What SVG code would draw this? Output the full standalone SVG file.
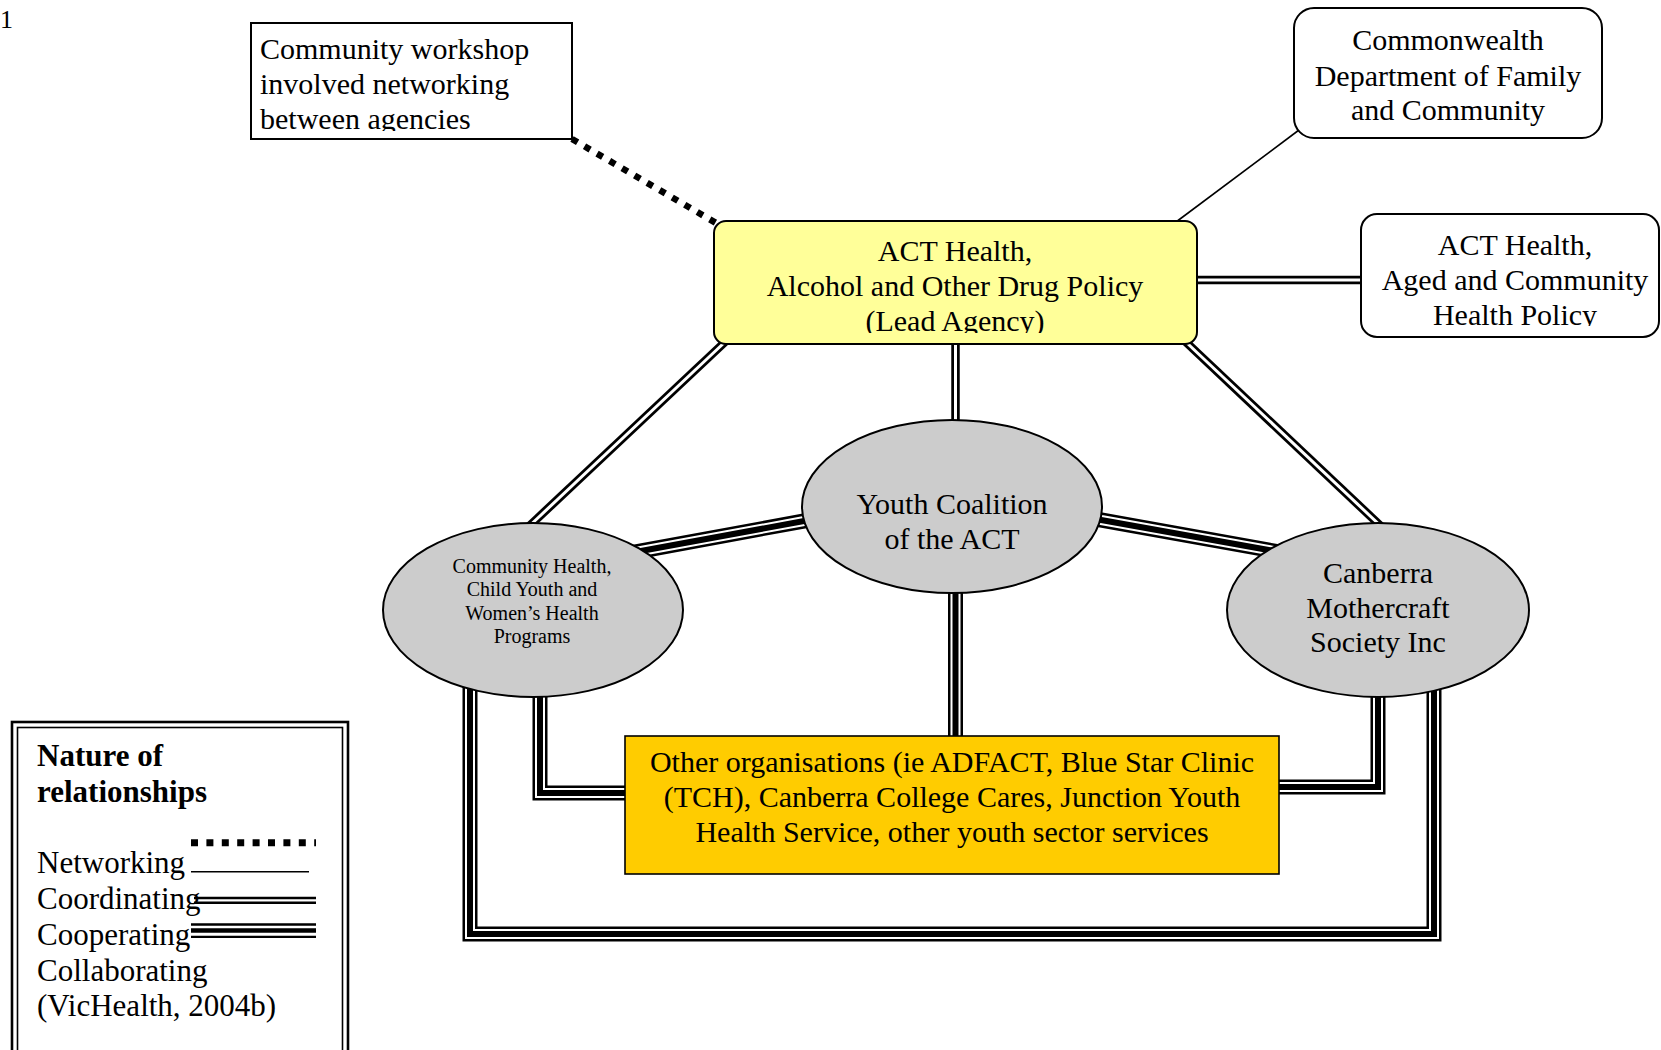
<svg xmlns="http://www.w3.org/2000/svg" width="1661" height="1050" viewBox="0 0 1661 1050">
<style>
text{font-family:"Liberation Serif","Times New Roman",serif;fill:#000;font-size:30px}
.c{text-anchor:middle}
.s{font-size:20px}
.lg{font-size:31px}
.b{font-weight:bold;font-size:31px}
.nd{stroke:#000;stroke-width:2}
.net{fill:none;stroke:#000;stroke-width:6.5;stroke-dasharray:6.5 8}
.one{fill:none;stroke:#000;stroke-width:1.6}
.d-o{fill:none;stroke:#000;stroke-width:8.5}
.d-i{fill:none;stroke:#fff;stroke-width:3}
.t-o{fill:none;stroke:#000;stroke-width:15}
.t-m{fill:none;stroke:#fff;stroke-width:10}
.t-i{fill:none;stroke:#000;stroke-width:6}
</style>
<defs>
<clipPath id="clipWs"><rect x="251" y="23" width="321" height="108"/></clipPath>
<clipPath id="clipAct"><rect x="714" y="221" width="483" height="112"/></clipPath>
<clipPath id="clipAged"><rect x="1361" y="214" width="300" height="112"/></clipPath>
<path id="d1" d="M1190,280 H1368"/>
<path id="d2" d="M742,326 L524,531"/>
<path id="d3" d="M955.5,330 V430"/>
<path id="d4" d="M1170,327 L1385,530"/>
<path id="tr1" d="M815,519 L630,553"/>
<path id="tr2" d="M1090,518 L1285,553"/>
<path id="tr3" d="M955.5,585 V745"/>
<path id="tr4" d="M540,690 V793 H635"/>
<path id="tr5" d="M1378,690 V787 H1270"/>
<path id="tr6" d="M470,680 V934 H1434 V680"/>
</defs>

<text x="0" y="28" style="font-size:26px">1</text>

<g id="connectors">
<path class="net" d="M572,139 L716,223"/>
<path class="one" d="M1176,222 L1299,130"/>
<use href="#d1" class="d-o"/><use href="#d1" class="d-i"/>
<use href="#d2" class="d-o"/><use href="#d2" class="d-i"/>
<use href="#d3" class="d-o"/><use href="#d3" class="d-i"/>
<use href="#d4" class="d-o"/><use href="#d4" class="d-i"/>
<use href="#tr1" class="t-o"/><use href="#tr1" class="t-m"/><use href="#tr1" class="t-i"/>
<use href="#tr2" class="t-o"/><use href="#tr2" class="t-m"/><use href="#tr2" class="t-i"/>
<use href="#tr3" class="t-o"/><use href="#tr3" class="t-m"/><use href="#tr3" class="t-i"/>
<use href="#tr4" class="t-o"/><use href="#tr4" class="t-m"/><use href="#tr4" class="t-i"/>
<use href="#tr5" class="t-o"/><use href="#tr5" class="t-m"/><use href="#tr5" class="t-i"/>
<use href="#tr6" class="t-o"/><use href="#tr6" class="t-m"/><use href="#tr6" class="t-i"/>
</g>

<g id="workshop">
<rect class="nd" x="251" y="23" width="321" height="116" fill="#fff"/>
<g clip-path="url(#clipWs)">
<text x="260" y="59">Community workshop</text>
<text x="260" y="94">involved networking</text>
<text x="260" y="129">between agencies</text>
</g>
</g>

<g id="commonwealth">
<rect class="nd" x="1294" y="8" width="308" height="130" rx="20" fill="#fff"/>
<text class="c" x="1448" y="50">Commonwealth</text>
<text class="c" x="1448" y="86">Department of Family</text>
<text class="c" x="1448" y="120">and Community</text>
</g>

<g id="aged">
<rect class="nd" x="1361" y="214" width="298" height="123" rx="16" fill="#fff"/>
<g clip-path="url(#clipAged)">
<text class="c" x="1515" y="255">ACT Health,</text>
<text class="c" x="1515" y="290">Aged and Community</text>
<text class="c" x="1515" y="325">Health Policy</text>
</g>
</g>

<g id="act">
<rect class="nd" x="714" y="221" width="483" height="123" rx="12" fill="#FFFF99"/>
<g clip-path="url(#clipAct)">
<text class="c" x="955" y="261">ACT Health,</text>
<text class="c" x="955" y="296">Alcohol and Other Drug Policy</text>
<text class="c" x="955" y="331">(Lead Agency)</text>
</g>
</g>

<g id="youth">
<ellipse class="nd" cx="952" cy="506.5" rx="150" ry="86.5" fill="#CCCCCC"/>
<text class="c" x="952" y="514">Youth Coalition</text>
<text class="c" x="952" y="549">of the ACT</text>
</g>

<g id="community-health">
<ellipse class="nd" cx="533" cy="610" rx="150" ry="87" fill="#CCCCCC"/>
<text class="c s" x="532" y="573">Community Health,</text>
<text class="c s" x="532" y="596">Child Youth and</text>
<text class="c s" x="532" y="620">Women’s Health</text>
<text class="c s" x="532" y="643">Programs</text>
</g>

<g id="mothercraft">
<ellipse class="nd" cx="1378" cy="610" rx="151" ry="87" fill="#CCCCCC"/>
<text class="c" x="1378" y="583">Canberra</text>
<text class="c" x="1378" y="618">Mothercraft</text>
<text class="c" x="1378" y="652">Society Inc</text>
</g>

<g id="other">
<rect x="625" y="736" width="654" height="138" fill="#FFCC00" stroke="#000" stroke-width="1.6"/>
<text class="c" x="952" y="772">Other organisations (ie ADFACT, Blue Star Clinic</text>
<text class="c" x="952" y="807">(TCH), Canberra College Cares, Junction Youth</text>
<text class="c" x="952" y="842">Health Service, other youth sector services</text>
</g>

<g id="legend">
<rect x="12" y="722" width="336" height="340" fill="#fff" stroke="#000" stroke-width="2.6"/>
<rect x="17.5" y="727.5" width="325" height="330" fill="none" stroke="#000" stroke-width="1.6"/>
<text class="b" x="37" y="766">Nature of</text>
<text class="b" x="37" y="802">relationships</text>
<text class="lg" x="37" y="873">Networking</text>
<text class="lg" x="37" y="909">Coordinating</text>
<text class="lg" x="37" y="945">Cooperating</text>
<text class="lg" x="37" y="981">Collaborating</text>
<text class="lg" x="37" y="1016">(VicHealth, 2004b)</text>
<path d="M191,842.7 H316" fill="none" stroke="#000" stroke-width="7" stroke-dasharray="7 8.4"/>
<path d="M191,871.7 H309" fill="none" stroke="#000" stroke-width="1.6"/>
<path d="M194,898 H316 M194,902.8 H316" fill="none" stroke="#000" stroke-width="2.5"/>
<path d="M191,924.5 H316 M191,936.8 H316" fill="none" stroke="#000" stroke-width="2.3"/>
<path d="M191,930.5 H316" fill="none" stroke="#000" stroke-width="4.5"/>
</g>
</svg>
